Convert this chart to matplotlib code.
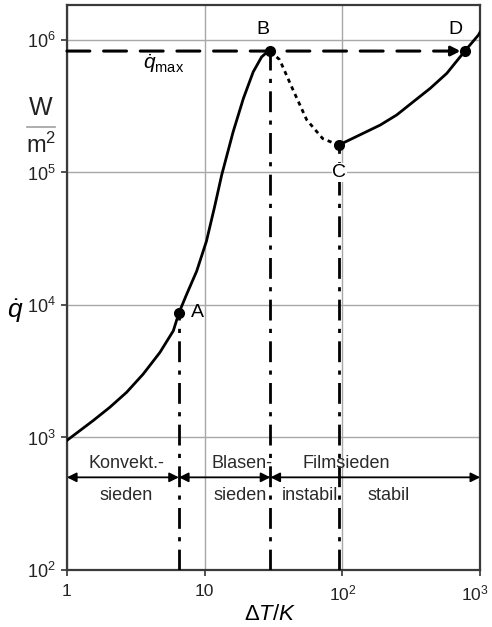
import numpy as np
import matplotlib
matplotlib.use("Agg")
import matplotlib.pyplot as plt
import matplotlib.transforms as mtransforms
from matplotlib.lines import Line2D

plt.rcParams["font.family"] = ["Liberation Sans", "DejaVu Sans"]
plt.rcParams["mathtext.fontset"] = "custom"
plt.rcParams["mathtext.rm"] = "Liberation Sans"
plt.rcParams["mathtext.it"] = "Liberation Sans:italic"
plt.rcParams["mathtext.bf"] = "Liberation Sans:bold"

# ------------------------------------------------------------------
# Data (log-log)
# ------------------------------------------------------------------
rise_dT = [1, 1.55, 2.05, 2.71, 3.58, 4.73, 5.92, 6.5, 7.39, 8.75, 10.3, 11.8, 13.3, 16.1, 19.1, 22.5, 25.9, 28.0, 30]
rise_q = [950, 1340, 1690, 2190, 3010, 4380, 6380, 8700, 12000, 18000, 30300, 55000, 96000, 203000,
          362000, 574000, 745000, 800000, 820000]

transition_dT = [30, 35, 43.8, 55, 72, 94]
transition_q = [820000, 710000, 420000, 250000, 180000, 161000]

film_dT = [94, 142, 188, 248, 327, 433, 572, 776, 971, 1000]
film_q = [161000, 198000, 228000, 272000, 342000, 431000, 560000, 828000, 1090000, 1150000]

points = {"A": (6.5, 8700), "B": (30, 820000), "C": (94, 161000), "D": (776, 828000)}
q_max = 825000

x_ticks = [1, 10, 100, 1000]
x_labels = ["1", "10", r"$\mathregular{10^2}$", r"$\mathregular{10^3}$"]
y_ticks = [1e2, 1e3, 1e4, 1e5, 1e6]
y_labels = [r"$\mathregular{10^%d}$" % n for n in range(2, 7)]

regions = [(1, 6.5), (6.5, 30), (30, 1000)]

fig = plt.figure(figsize=(4.92, 6.27), dpi=100)
ax = fig.add_axes([0.136, 0.091, 0.840, 0.901])
ax.set_xscale("log")
ax.set_yscale("log")
ax.set_xlim(1, 1000)
ax.set_ylim(100, 10 ** 6.264)

ax.set_xticks(x_ticks)
ax.set_xticklabels(x_labels, fontsize=12.5, color="#222222")
ax.set_yticks(y_ticks)
ax.set_yticklabels(y_labels, fontsize=13, color="#222222")
ax.minorticks_off()
ax.tick_params(axis="both", direction="out", length=4, width=1.2, color="#333333", pad=4)
ax.tick_params(axis="x", pad=6)
ax.grid(True, color="#a8a8a8", linewidth=1.0)
ax.set_axisbelow(True)
for s in ax.spines.values():
    s.set_color("#3a3a3a")
    s.set_linewidth(1.6)

# keep the 10^3 label inside the figure edge
last = ax.get_xticklabels()[-1]
last.set_transform(last.get_transform() +
                   mtransforms.ScaledTranslation(-4 / 72, 0, fig.dpi_scale_trans))

# curve
ax.plot(rise_dT, rise_q, color="black", lw=2, solid_joinstyle="round", zorder=4)
ax.plot(transition_dT, transition_q, color="black", lw=2, linestyle=(0, (1.5, 1.5)), zorder=4)
ax.plot(film_dT, film_q, color="black", lw=2, solid_joinstyle="round", zorder=4)

# dash-dot verticals
dashdot = (0, (7.5, 3, 1.5, 3))
for key in ["A", "B", "C"]:
    x, y = points[key]
    ax.plot([x, x], [100, y], color="black", lw=2, linestyle=dashdot, zorder=3)

# q_max line with arrow
ax.annotate("", xy=(points["D"][0] * 0.93, q_max), xytext=(1, q_max),
            arrowprops=dict(arrowstyle="-|>", color="black", lw=2.2,
                            linestyle=(0, (7.5, 4.5)), mutation_scale=14,
                            shrinkA=0, shrinkB=0), zorder=5)

for key, (x, y) in points.items():
    ax.plot(x, y, "o", color="black", markersize=7, zorder=6)

ax.text(8.8, 8700, "A", fontsize=14, ha="center", va="center")
ax.text(26.5, 1.19e6, "B", fontsize=14, ha="center", va="center")
ax.text(95, 1.0e5, "C", fontsize=14, ha="center", va="center",
        bbox=dict(facecolor="white", edgecolor="none", pad=0.5), zorder=5)
ax.text(660, 1.19e6, "D", fontsize=14, ha="center", va="center")
ax.text(5.0, 6.6e5, r"$\dot{q}_{\mathregular{max}}$", fontsize=15, ha="center", va="center")

# region arrows
for x0, x1 in regions:
    ax.annotate("", xy=(x1, 500), xytext=(x0, 500),
                arrowprops=dict(arrowstyle="<|-|>", color="black", lw=1.3,
                                mutation_scale=14, shrinkA=0, shrinkB=0), zorder=5)

txt = dict(fontsize=13, ha="center", va="center", color="#2a2a2a")
ax.text(2.7, 640, "Konvekt.-", **txt)
ax.text(2.7, 365, "sieden", **txt)
ax.text(18.7, 640, "Blasen-", **txt)
ax.text(18.0, 365, "sieden", **txt)
ax.text(106, 640, "Filmsieden", **txt)
ax.text(58, 365, "instabil", **txt)
ax.text(218, 365, "stabil", **txt)

# axis labels
fig.text(270 / 492, 1 - 614 / 627, r"$\Delta T/K$", fontsize=16, ha="center", va="center")
fig.text(15 / 492, 1 - 311 / 627, r"$\dot{q}$", fontsize=19, ha="center", va="center")
fig.text(41 / 492, 1 - 108 / 627, "W", fontsize=18, ha="center", va="center", color="#222222")
fig.text(41 / 492, 1 - 145 / 627, r"m$^2$", fontsize=17, ha="center", va="center", color="#222222")
fig.add_artist(Line2D([27 / 492, 55 / 492], [1 - 127 / 627, 1 - 127 / 627],
                      color="#a0a0a0", lw=1.2))

fig.savefig("out.png", dpi=100)
